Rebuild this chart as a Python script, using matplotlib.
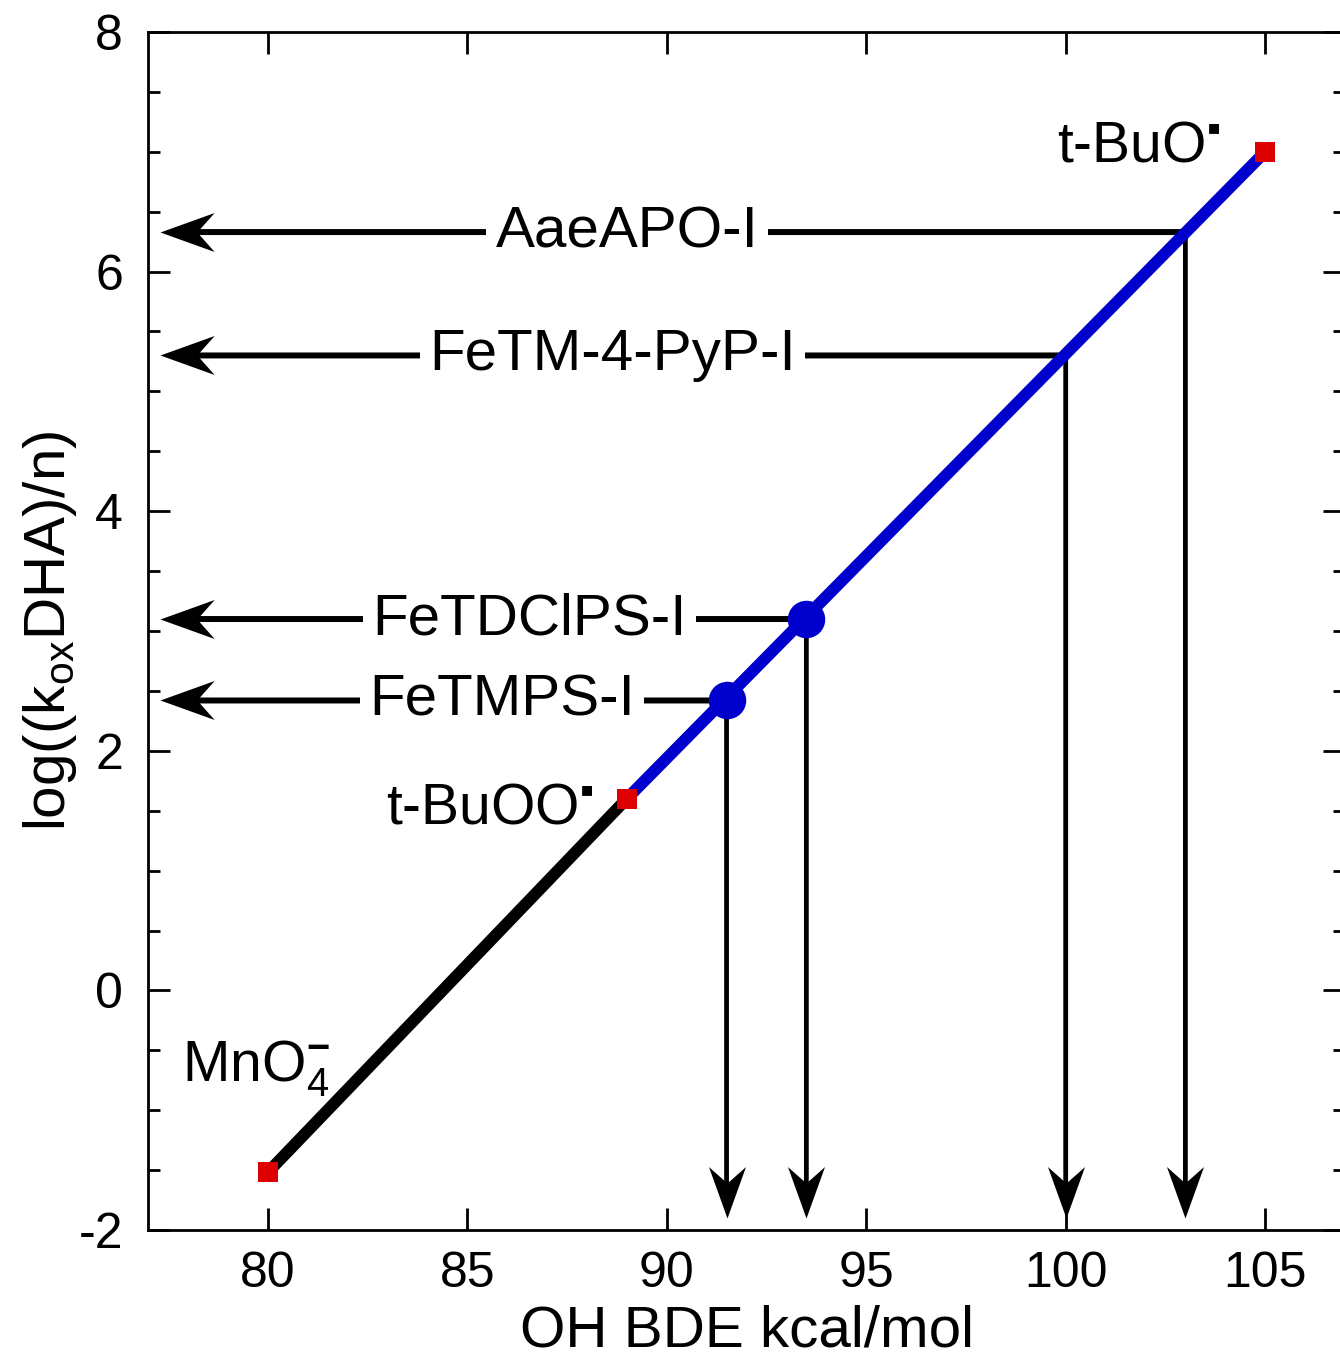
import numpy as np
import matplotlib
matplotlib.use("Agg")
import matplotlib.pyplot as plt
from matplotlib.path import Path
from matplotlib.ticker import MultipleLocator

plt.rcParams['font.family'] = ['Liberation Sans', 'DejaVu Sans']
plt.rcParams['mathtext.fontset'] = 'custom'
plt.rcParams['mathtext.rm'] = 'Liberation Sans'
plt.rcParams['mathtext.it'] = 'Liberation Sans:italic'
plt.rcParams['mathtext.bf'] = 'Liberation Sans:bold'
plt.rcParams['mathtext.fallback'] = 'stix'
plt.rcParams['axes.unicode_minus'] = False

# ---- data ----
ref_names = [r"MnO$_4^{\mathbf{-}}$", "t-BuOO$^{\u25aa}$", "t-BuO$^{\u25aa}$"]
ref_bde = [80.0, 89.0, 105.0]
ref_logk = [-1.52, 1.60, 7.00]

enz_names = ["FeTMPS-I", "FeTDClPS-I", "FeTM-4-PyP-I", "AaeAPO-I"]
enz_bde = [91.5, 93.5, 100.0, 103.0]
enz_logk = [2.42, 3.10, 5.30, 6.33]
enz_marked = [True, True, False, False]

x_ticks = [80, 85, 90, 95, 100, 105]
y_ticks = [-2, 0, 2, 4, 6, 8]

# ---- layout / style ----
label_x = [85.87, 86.57, 88.65, 89.0]   # centre of each enzyme label on its arrow
x_tip = 77.3
y_tip = -1.9
ref_offsets = [(-62, 66), (-24, -18), (-32, -7)]  # points, relative to the red square
ref_ha = ['left', 'right', 'right']

fig = plt.figure(figsize=(13.4, 13.61), dpi=100)
ax = fig.add_axes([148/1340, 131/1361, 1197/1340, 1198/1361])
ax.set_xlim(77, 107)
ax.set_ylim(-2, 8)

# arrowhead marker (notched), tip at origin
head = np.array([[0, 0], [-1, 0.36], [-0.68, 0], [-1, -0.36], [0, 0]])
codes = [Path.MOVETO, Path.LINETO, Path.LINETO, Path.LINETO, Path.CLOSEPOLY]
left_head = Path(head * [-1, 1], codes)
down_head = Path(np.column_stack([head[:, 1], -head[:, 0]]), codes)
head_ms = 78

arrow_lw = 4.3
for name, bx, ly, lx in zip(enz_names, enz_bde, enz_logk, label_x):
    # horizontal arrow to the y axis
    ax.annotate('', xy=(x_tip, ly), xytext=(bx, ly),
                arrowprops=dict(arrowstyle='-', lw=arrow_lw, color='black',
                                shrinkA=0, shrinkB=22),
                zorder=2)
    ax.plot([x_tip], [ly], marker=left_head, ms=head_ms, color='black',
            mew=0, zorder=2)
    # vertical arrow to the x axis
    ax.annotate('', xy=(bx, y_tip), xytext=(bx, ly),
                arrowprops=dict(arrowstyle='-', lw=arrow_lw * 0.8, color='black',
                                shrinkA=0, shrinkB=22),
                zorder=2)
    ax.plot([bx], [y_tip], marker=down_head, ms=head_ms * 0.95, color='black',
            mew=0, zorder=2)
    ax.text(lx, ly, name, fontsize=42, ha='center', va='center', zorder=6,
            bbox=dict(boxstyle='square,pad=0.16', fc='white', ec='none'))

# correlation line
ax.plot(ref_bde[:2], ref_logk[:2], color='black', lw=8.5,
        solid_capstyle='butt', zorder=3)
ax.plot(ref_bde[1:], ref_logk[1:], color='#0000cc', lw=8.5,
        solid_capstyle='butt', zorder=3)

# enzyme circles
for bx, ly, m in zip(enz_bde, enz_logk, enz_marked):
    if m:
        ax.plot([bx], [ly], 'o', ms=27, color='#0000cc', mew=0, zorder=4)

# reference squares and labels
ax.plot(ref_bde, ref_logk, 's', ms=14, color='#dd0000', mew=0, zorder=5)
for name, bx, ly, off, ha in zip(ref_names, ref_bde, ref_logk, ref_offsets, ref_ha):
    ax.annotate(name, xy=(bx, ly), xytext=off, textcoords='offset points',
                fontsize=41, ha=ha, va='baseline', zorder=6)

# axes styling
ax.set_xticks(x_ticks)
ax.set_yticks(y_ticks)
ax.set_xticklabels([str(v) for v in x_ticks])
ax.set_yticklabels([str(v) for v in y_ticks])
ax.yaxis.set_minor_locator(MultipleLocator(0.5))
ax.tick_params(which='major', direction='in', top=True, right=True,
               length=15.5, width=2, labelsize=36)
ax.tick_params(axis='x', which='major', pad=15)
ax.tick_params(axis='y', which='major', pad=18)
ax.tick_params(axis='y', which='minor', direction='in', left=True, right=True,
               length=8.5, width=2)
for s in ax.spines.values():
    s.set_linewidth(2)

ax.set_xlabel("OH BDE kcal/mol", fontsize=42)
ax.set_ylabel(r"log((k$_{\mathrm{ox}}$DHA)/n)", fontsize=42)
ax.xaxis.set_label_coords(0.5, -0.062)
ax.yaxis.set_label_coords(-0.058, 0.5)

fig.savefig("out.png", dpi=100)
